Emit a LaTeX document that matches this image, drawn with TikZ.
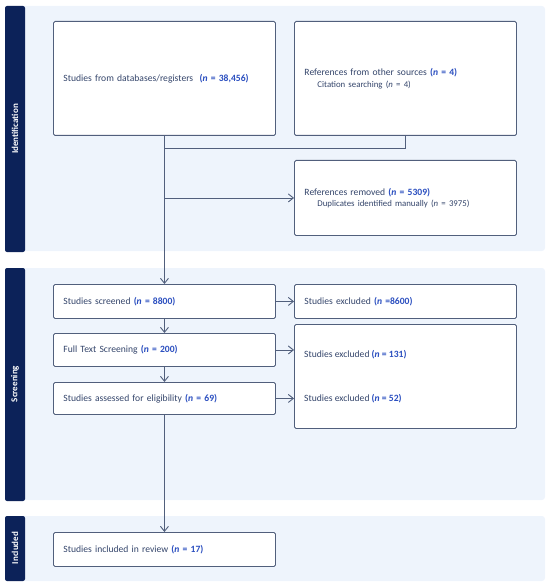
\documentclass[tikz,border=0pt]{standalone}
\usepackage{fontspec}
\setmainfont{Carlito}
\usepackage{xcolor}
\usepackage{tikz}
\usetikzlibrary{arrows.meta, positioning}

\definecolor{navybar}{HTML}{0C2259}
\definecolor{panelbg}{HTML}{EEF4FC}
\definecolor{boxline}{HTML}{515F7C}
\definecolor{txtgrey}{HTML}{34456B}
\definecolor{nblue}{HTML}{2B4FC0}

\newcommand{\cnt}[1]{\textcolor{nblue}{\bfseries(\textit{n} = #1)}}
\newcommand{\sublabel}{\hspace*{13pt}\fontsize{8.8}{11}\selectfont}

\begin{document}
\begin{tikzpicture}[x=1pt, y=-1pt,
    font=\fontsize{9.6}{11.5}\selectfont\color{txtgrey},
    panel/.style={fill=panelbg, rounded corners=3pt},
    sidebar/.style={fill=navybar, rounded corners=2pt},
    stage/.style={rotate=90, text=white, font=\fontsize{9}{10}\selectfont\bfseries},
    box/.style={draw=boxline, fill=white, line width=0.9pt, rounded corners=1.5pt,
        anchor=north west, minimum width=222, text width=202, inner xsep=10, align=left},
    flow/.style={draw=boxline, line width=0.9pt},
    arr/.style={flow, -{Straight Barb[length=5pt, width=8pt]}}
]
\useasboundingbox (0,0) rectangle (550,585);

% stage panels
\fill[panel] (22,6) rectangle (545,251);
\fill[panel] (22,268) rectangle (545,500);
\fill[panel] (22,516) rectangle (545,581);
\fill[sidebar] (5,6) rectangle (25,252);
\fill[sidebar] (5,268) rectangle (25,501);
\fill[sidebar] (5,516) rectangle (25,581);
\node[stage] (lblid) at (15,129) {Identification};
\node[stage] (lblscr) at (15,384) {Screening};
\node[stage] (lblinc) at (15,548) {Included};

% identification
\node[box, minimum height=114] (db) at (53,21) {Studies from databases/registers \ \cnt{38,456}};
\node[box, minimum height=114] (other) at (294,21) {References from other sources \cnt{4}\\
    \sublabel Citation searching (\textit{n} = 4)};
\node[box, minimum height=75] (removed) at (294,160) {References removed \cnt{5309}\\
    \sublabel Duplicates identified manually (\textit{n} = 3975)};

% screening
\node[box, minimum height=34] (screened) at (53,284) {Studies screened \cnt{8800}};
\node[box, minimum height=33] (fulltext) at (53,333) {Full Text Screening \cnt{200}};
\node[box, minimum height=32] (assessed) at (53,382) {Studies assessed for eligibility \cnt{69}};
\node[box, minimum height=34] (excla) at (294,284) {Studies excluded \textcolor{nblue}{\bfseries(\textit{n} =8600)}};
\node[box, minimum height=104] (exclb) at (294,324) {};
\node[anchor=west, inner xsep=0] (exclbt) at (304,355) {Studies excluded \cnt{131}};
\node[anchor=west, inner xsep=0] (exclct) at (304,399) {Studies excluded \cnt{52}};

% included
\node[box, minimum height=34] (incl) at (53,532) {Studies included in review \cnt{17}};

% connectors
\coordinate (merge) at (db.south |- 0,148);
\draw[flow] (other.south) |- (merge);
\draw[arr] (db.south) -- (screened.north);
\draw[arr] (db.south |- removed.west) -- (removed.west);
\draw[arr] (screened.east) -- (excla.west);
\draw[arr] (screened.south) -- (fulltext.north);
\draw[arr] (fulltext.south) -- (assessed.north);
\draw[arr] (fulltext.east) -- (exclb.west |- fulltext.east);
\draw[arr] (assessed.east) -- (exclb.west |- assessed.east);
\draw[arr] (assessed.south) -- (incl.north);
\end{tikzpicture}
\end{document}
